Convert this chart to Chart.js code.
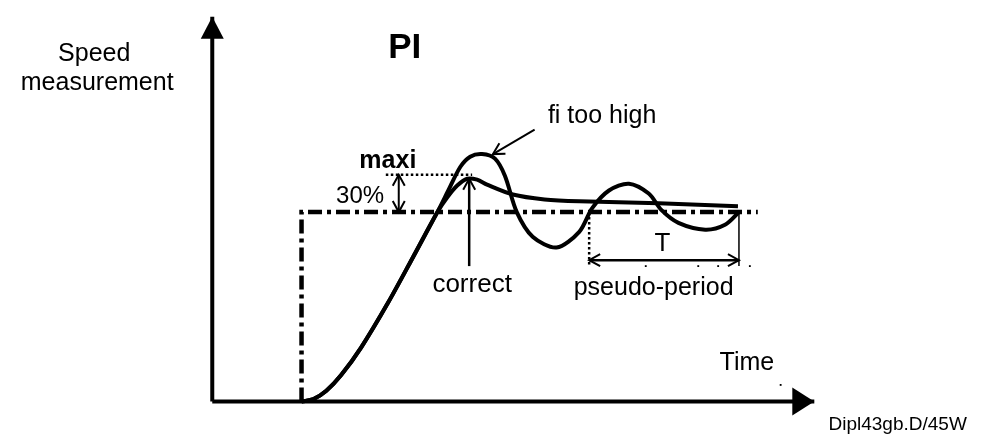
<!DOCTYPE html>
<html lang="en">
<head>
<meta charset="UTF-8">
<title>PI</title>
<style>
    body { margin: 0; background: #fff; }
    #chart { display: block; }
</style>
</head>
<body>
<canvas id="chart" width="983" height="442"></canvas>
<script src="https://cdn.jsdelivr.net/npm/chart.js@4/dist/chart.umd.min.js"></script>
<script>
// time (x) and speed (y), setpoint = 1
const correctT = [1, 1.133, 1.278, 1.444, 1.667, 1.967, 2.244, 2.522, 2.633, 2.744, 2.856, 2.967, 3.078, 3.367, 3.722, 4.111, 5.0, 5.889];
const correctY = [0, 0.013, 0.057, 0.140, 0.285, 0.520, 0.758, 1.0, 1.078, 1.140, 1.176, 1.171, 1.145, 1.093, 1.067, 1.057, 1.047, 1.031];

const fiHighT = [1, 1.133, 1.278, 1.444, 1.667, 1.967, 2.244, 2.522, 2.644, 2.778, 2.889, 3.022, 3.167, 3.278, 3.411, 3.589, 3.856, 4.111, 4.256, 4.444, 4.667, 4.889, 5.033, 5.222, 5.522, 5.744, 5.900];
const fiHighY = [0, 0.013, 0.057, 0.140, 0.285, 0.520, 0.758, 1.0, 1.114, 1.238, 1.292, 1.306, 1.282, 1.192, 1.0, 0.870, 0.813, 0.896, 1.021, 1.114, 1.150, 1.098, 1.010, 0.943, 0.907, 0.933, 1.0];

const setpointT = [1, 1, 6.111];
const setpointY = [0, 1, 1];

const xAxisT = [0, 6.744];
const xAxisY = [0, 0];
const yAxisT = [0, 0];
const yAxisY = [0, 2.031];

// annotation marks
const maxiT = [1.944, 2.911];
const maxiY = [1.197, 1.197];
const overshootT = [2.089, 2.089];
const overshootY = [1.0, 1.197];
const correctArrowT = [2.878, 2.878];
const correctArrowY = [0.715, 1.176];
const fiArrowT = [3.611, 3.144];
const fiArrowY = [1.435, 1.306];
const periodT = [4.222, 5.9];
const periodY = [0.746, 0.746];
const periodStartT = [4.222, 4.222];
const periodStartY = [1.0, 0.715];
const periodEndT = [5.9, 5.9];
const periodEndY = [1.0, 0.715];
const specksT = [4.856, 5.444, 5.667, 6.022, 6.367];
const specksY = [0.715, 0.715, 0.715, 0.715, 0.088];

const labels = [
    { text: 'Speed', t: -1.322, y: 1.798, font: '25px "Liberation Sans", Arial' },
    { text: 'measurement', t: -1.289, y: 1.642, font: '25px "Liberation Sans", Arial' },
    { text: 'PI', t: 2.156, y: 1.813, font: 'bold 35px "Liberation Sans", Arial' },
    { text: 'maxi', t: 1.967, y: 1.233, font: 'bold 25px "Liberation Sans", Arial' },
    { text: '30%', t: 1.656, y: 1.047, font: '24px "Liberation Sans", Arial' },
    { text: 'fi too high', t: 4.367, y: 1.472, font: '25px "Liberation Sans", Arial' },
    { text: 'correct', t: 2.911, y: 0.580, font: '26px "Liberation Sans", Arial' },
    { text: 'T', t: 5.044, y: 0.793, font: '26px "Liberation Sans", Arial' },
    { text: 'pseudo-period', t: 4.944, y: 0.565, font: '25px "Liberation Sans", Arial' },
    { text: 'Time', t: 5.989, y: 0.166, font: '25px "Liberation Sans", Arial' },
    { text: 'Dipl43gb.D/45W', t: 7.678, y: -0.150, font: '19px "Liberation Sans", Arial' }
];

// arrow heads: tip at (t, y), pointing away from (fromT, fromY)
const heads = [
    { t: 0, y: 2.031, fromT: 0, fromY: 0, filled: true, len: 22, half: 11.5 },
    { t: 6.744, y: 0, fromT: 0, fromY: 0, filled: true, len: 22, half: 14 },
    { t: 2.089, y: 1.197, fromT: 2.089, fromY: 1.0 },
    { t: 2.089, y: 1.0, fromT: 2.089, fromY: 1.197 },
    { t: 2.878, y: 1.176, fromT: 2.878, fromY: 0.715 },
    { t: 3.144, y: 1.306, fromT: 3.611, fromY: 1.435 },
    { t: 4.222, y: 0.746, fromT: 5.9, fromY: 0.746 },
    { t: 5.9, y: 0.746, fromT: 4.222, fromY: 0.746 }
];

function pts(ts, ys) {
    return ts.map((t, i) => ({ x: t, y: ys[i] }));
}

function line(ts, ys, width, dash, smooth) {
    return {
        data: pts(ts, ys),
        showLine: true,
        borderColor: '#000',
        borderWidth: width,
        borderDash: dash || [],
        pointRadius: 0,
        fill: false,
        tension: smooth ? 0.3 : 0
    };
}

const drawExtras = {
    id: 'drawExtras',
    afterDatasetsDraw(chart) {
        const ctx = chart.ctx;
        const sx = chart.scales.x, sy = chart.scales.y;
        ctx.save();
        ctx.fillStyle = '#000';
        ctx.strokeStyle = '#000';
        heads.forEach(h => {
            const x = sx.getPixelForValue(h.t), y = sy.getPixelForValue(h.y);
            const fx = sx.getPixelForValue(h.fromT), fy = sy.getPixelForValue(h.fromY);
            const a = Math.atan2(y - fy, x - fx);
            const len = h.len || 11, half = h.half || 6;
            const bx = x - len * Math.cos(a), by = y - len * Math.sin(a);
            const px = -Math.sin(a) * half, py = Math.cos(a) * half;
            ctx.beginPath();
            if (h.filled) {
                ctx.moveTo(x, y);
                ctx.lineTo(bx + px, by + py);
                ctx.lineTo(bx - px, by - py);
                ctx.closePath();
                ctx.fill();
            } else {
                ctx.lineWidth = 2;
                ctx.moveTo(bx + px, by + py);
                ctx.lineTo(x, y);
                ctx.lineTo(bx - px, by - py);
                ctx.stroke();
            }
        });
        ctx.textAlign = 'center';
        ctx.textBaseline = 'alphabetic';
        labels.forEach(l => {
            ctx.font = l.font;
            ctx.fillText(l.text, sx.getPixelForValue(l.t), sy.getPixelForValue(l.y));
        });
        ctx.restore();
    }
};

new Chart(document.getElementById('chart'), {
    type: 'scatter',
    data: {
        datasets: [
            line(yAxisT, yAxisY, 4),
            line(xAxisT, xAxisY, 4),
            line(setpointT, setpointY, 4.5, [14, 5, 4, 5]),
            line(correctT, correctY, 4, null, true),
            line(fiHighT, fiHighY, 4, null, true),
            line(maxiT, maxiY, 2.5, [2.5, 2.5]),
            line(overshootT, overshootY, 2),
            line(correctArrowT, correctArrowY, 2.5),
            line(fiArrowT, fiArrowY, 2),
            line(periodT, periodY, 2.5),
            line(periodStartT, periodStartY, 2.5, [2.5, 2.5]),
            line(periodEndT, periodEndY, 1.5),
            {
                data: pts(specksT, specksY),
                pointStyle: 'rect',
                pointRadius: 1.3,
                backgroundColor: '#000',
                borderWidth: 0
            }
        ]
    },
    options: {
        responsive: false,
        animation: false,
        layout: { padding: 0 },
        plugins: { legend: { display: false }, tooltip: { enabled: false } },
        scales: {
            x: { type: 'linear', min: -2.333, max: 8.589, display: false },
            y: { type: 'linear', min: -0.192, max: 2.098, display: false }
        }
    },
    plugins: [drawExtras]
});
</script>
</body>
</html>
